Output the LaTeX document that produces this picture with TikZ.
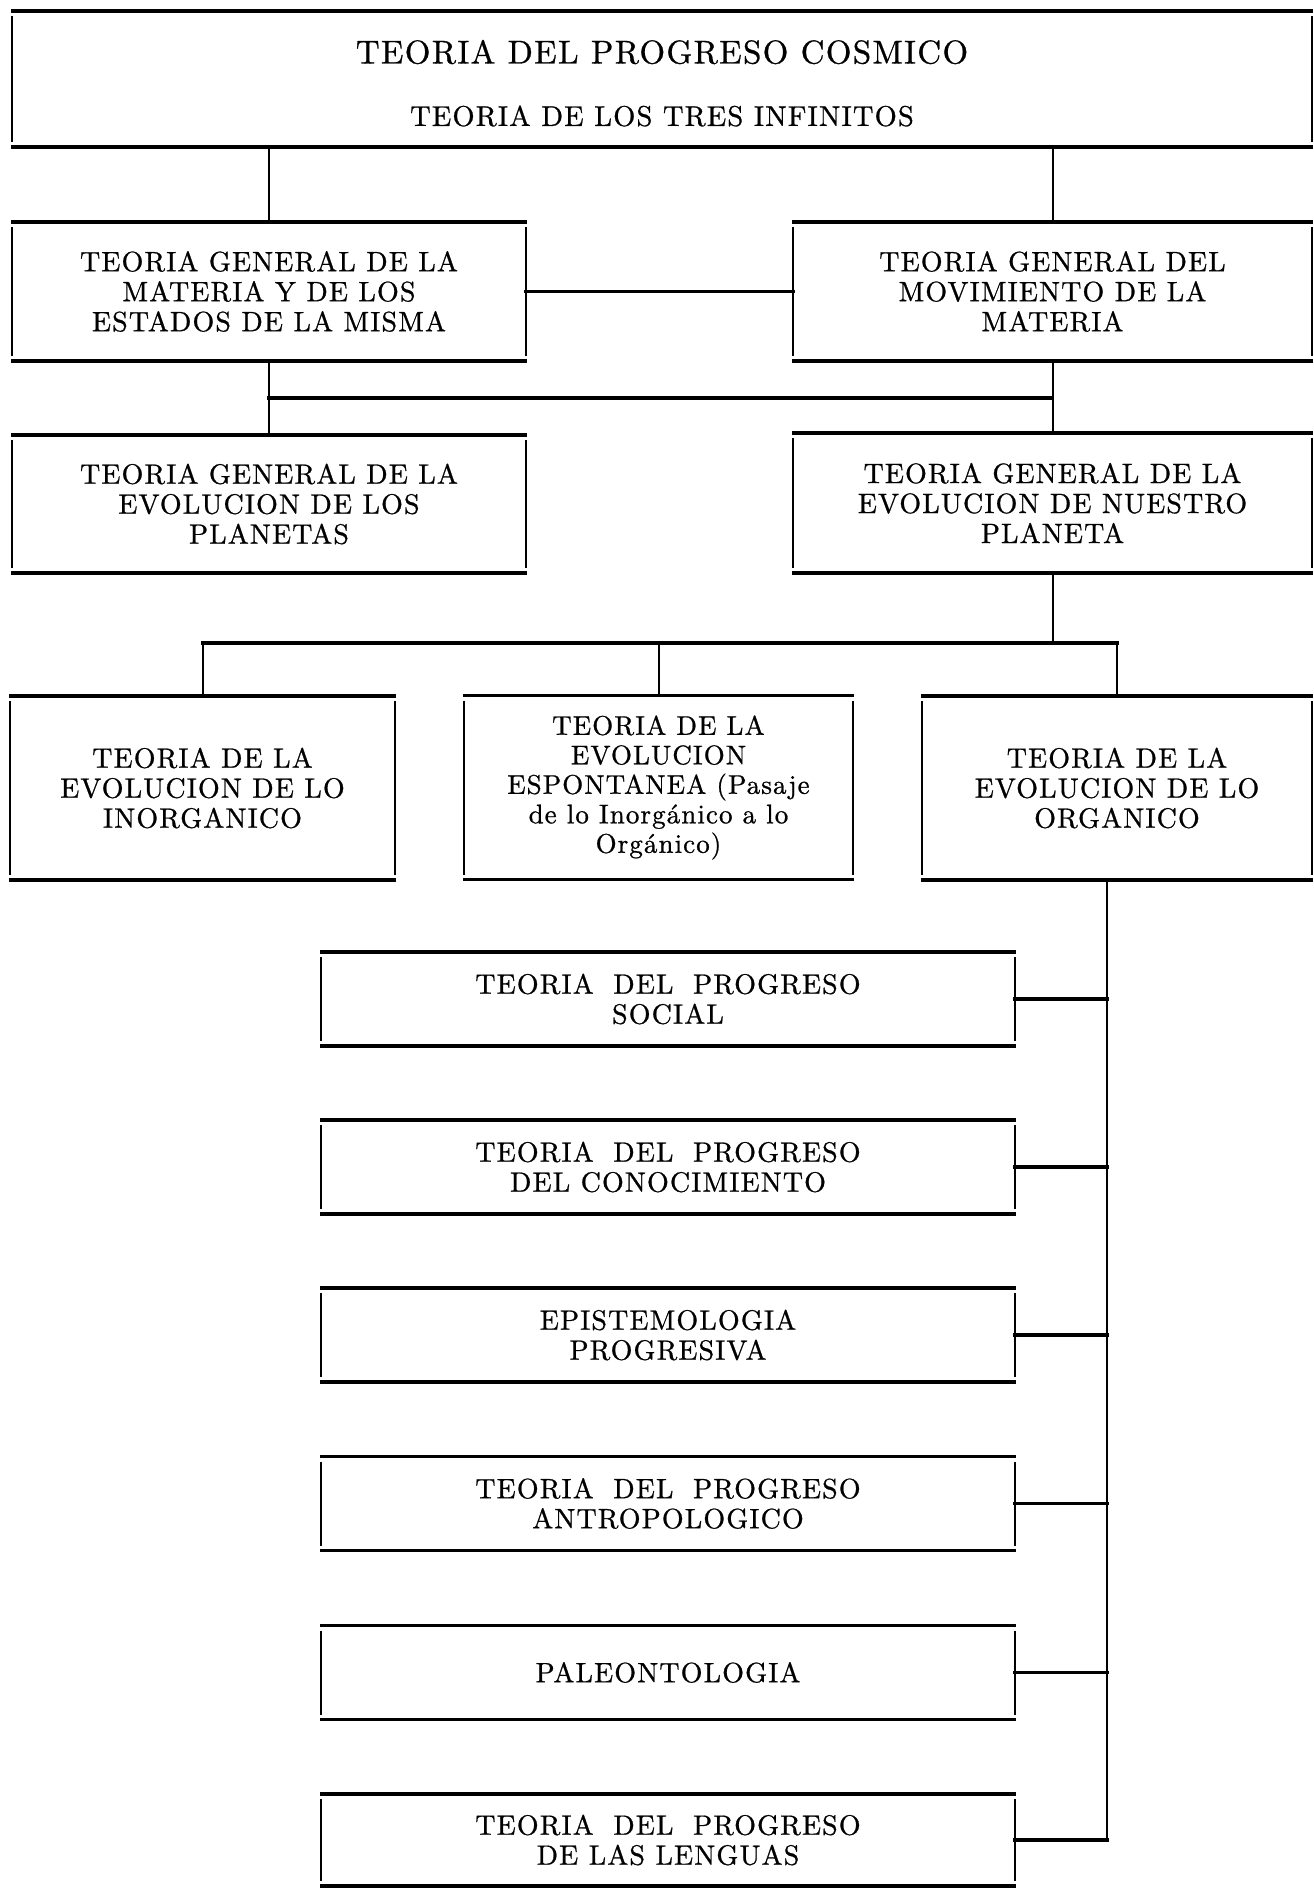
\documentclass[tikz,border=0pt]{standalone}
\usepackage{fontspec}
\setmainfont{lmroman10-regular.otf}[LetterSpace=4, FakeBold=0.8]
\usetikzlibrary{calc}
\newcommand\boxfont{\fontsize{28}{30}\selectfont}
\newcommand\smallboxfont{\fontsize{27}{29.5}\selectfont}
\newcommand\ws{\hspace{0.7em}}
\newcommand\tribox[1]{%
  \draw[hline] ([xshift=-1pt]#1.north west) -- ([xshift=1pt]#1.north east);
  \draw[hline] ([xshift=-1pt]#1.south west) -- ([xshift=1pt]#1.south east);
  \draw[vline] ([yshift=-5pt]#1.north west) -- ([yshift=5pt]#1.south west);
  \draw[vline] ([yshift=-5pt]#1.north east) -- ([yshift=5pt]#1.south east);}
\tikzset{
  box/.style={inner sep=0pt, outer sep=0pt, align=center, font=\boxfont},
  lowbox/.style={box, minimum width=694pt, minimum height=94pt},
  midbox/.style={box, minimum height=184pt},
  hline/.style={line width=3.8pt},
  vline/.style={line width=1.8pt},
  hconn/.style={line width=3.2pt, line cap=rect},
  vconn/.style={line width=2pt},
}
\begin{document}
\begin{tikzpicture}[x=1pt,y=-1pt]
\useasboundingbox (0,0) rectangle (1314,1888);
% top box
\node[box, minimum width=1300pt, minimum height=136pt] (T) at (662,79) {};
\node[inner sep=0pt, font=\fontsize{33}{33}\selectfont] (title) at (662,52) {TEORIA DEL PROGRESO COSMICO};
\node[inner sep=0pt, font=\fontsize{28.5}{28.5}\selectfont] (sub) at (662,116) {TEORIA DE LOS TRES INFINITOS};
% row 2
\node[box, minimum width=514pt, minimum height=139pt] (A) at (269,291.5) {TEORIA GENERAL DE LA\\MATERIA Y DE LOS\\ESTADOS DE LA MISMA};
\node[box, minimum width=519pt, minimum height=139pt] (B) at (1052.5,291.5) {TEORIA GENERAL DEL\\MOVIMIENTO DE LA\\MATERIA};
% row 3
\node[box, minimum width=514pt, minimum height=138pt] (C) at (269,504) {TEORIA GENERAL DE LA\\EVOLUCION DE LOS\\PLANETAS};
\node[box, minimum width=519pt, minimum height=140pt] (D) at (1052.5,503) {TEORIA GENERAL DE LA\\EVOLUCION DE NUESTRO\\PLANETA};
% row 4
\node[midbox, minimum width=385pt] (E) at (202.5,788) {TEORIA DE LA\\EVOLUCION DE LO\\INORGANICO};
\node[midbox, minimum width=389pt, font=\smallboxfont] (F) at (658.5,787.5) {TEORIA DE LA\\EVOLUCION\\ESPONTANEA (Pasaje\\de lo Inorgánico a lo\\Orgánico)};
\node[midbox, minimum width=390pt] (G) at (1117,788) {TEORIA DE LA\\EVOLUCION DE LO\\ORGANICO};
% lower column
\node[lowbox] (H) at (668,999) {TEORIA\ws DEL\ws PROGRESO\\SOCIAL};
\node[lowbox] (I) at (668,1167) {TEORIA\ws DEL\ws PROGRESO\\DEL CONOCIMIENTO};
\node[lowbox] (J) at (668,1335) {EPISTEMOLOGIA\\PROGRESIVA};
\node[lowbox] (K) at (668,1503.5) {TEORIA\ws DEL\ws PROGRESO\\ANTROPOLOGICO};
\node[lowbox] (L) at (668,1672.5) {PALEONTOLOGIA};
\node[lowbox, minimum height=92pt] (M) at (668,1840) {TEORIA\ws DEL\ws PROGRESO\\DE LAS LENGUAS};
% box rules
\foreach \n in {T,A,B,C,D,E,F,G,H,I,J,K,L,M} {\tribox{\n}}
% connectors
\draw[vconn] (T.south -| A.north) -- (A.north);
\draw[vconn] (T.south -| B.north) -- (B.north);
\draw[hconn] (A.east) -- (B.west);
\draw[vconn] (A.south) -- (C.north);
\draw[vconn] (B.south) -- (D.north);
\coordinate (mid) at (0,398);
\draw[hconn] (A.south |- mid) -- (B.south |- mid);
\coordinate (bus) at (0,643);
\draw[vconn] (D.south) -- (D.south |- bus);
\draw[hconn] (E.north |- bus) -- (G.north |- bus);
\draw[vconn] (E.north |- bus) -- (E.north);
\draw[vconn] (F.north |- bus) -- (F.north);
\draw[vconn] (G.north |- bus) -- (G.north);
\coordinate (spine) at (1107,0);
\draw[line width=2.4pt] (G.south -| spine) -- (M.east -| spine);
\foreach \n in {H,I,J,K,L,M} {\draw[hconn] (\n.east) -- (\n.east -| spine);}
\end{tikzpicture}
\end{document}
